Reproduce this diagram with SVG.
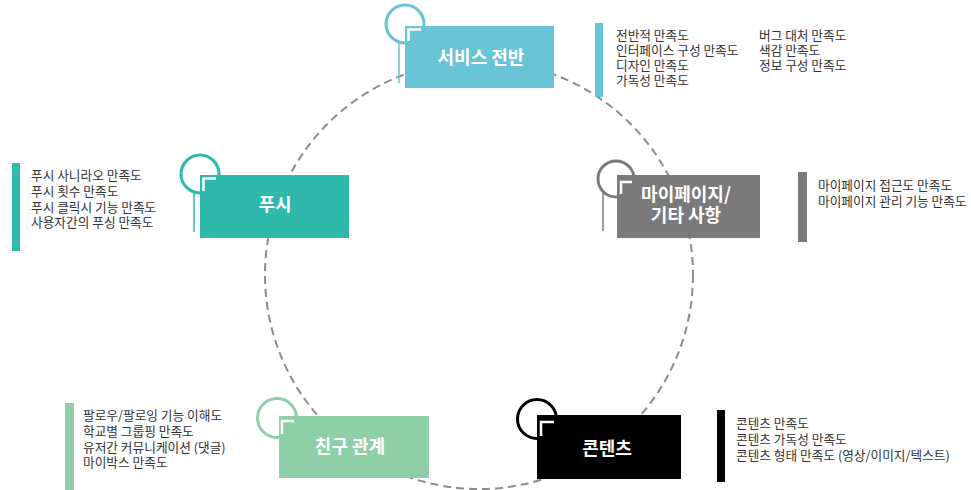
<svg xmlns="http://www.w3.org/2000/svg" width="971" height="490" viewBox="0 0 971 490">
  <style>
    .lbl { font-family: "Noto Sans CJK KR", "Noto Sans", sans-serif; font-size: 18px; font-weight: bold; fill: #ffffff; text-anchor: middle; }
    .item { font-family: "Noto Sans CJK KR", "Noto Sans", sans-serif; font-size: 12.7px; fill: #333333; }
    .ring { fill: none; stroke-width: 3; }
    .notch { fill: none; stroke: #ffffff; stroke-width: 2.5; }
    .thin { fill: none; stroke-width: 1.5; }
    .f-svc { fill: #69c4d6; } .s-svc { stroke: #69c4d6; }
    .f-push { fill: #2fb9ad; } .s-push { stroke: #2fb9ad; }
    .f-my { fill: #7a7a7a; } .s-my { stroke: #7a7a7a; }
    .f-fr { fill: #8fcfa8; } .s-fr { stroke: #8fcfa8; }
    .f-ct { fill: #000000; } .s-ct { stroke: #000000; }
  </style>
  <rect width="971" height="490" fill="#ffffff"/>

  <g id="connectors">
    <circle cx="479" cy="275" r="214" fill="none" stroke="#8c8c8c" stroke-width="2" stroke-dasharray="8 5"/>
  </g>

  <g id="details">
    <rect x="595" y="23" width="8" height="74" class="f-svc"/>
    <text class="item" x="616" y="39.5">전반적 만족도</text>
    <text class="item" x="616" y="54.5">인터페이스 구성 만족도</text>
    <text class="item" x="616" y="69.5">디자인 만족도</text>
    <text class="item" x="616" y="84.5">가독성 만족도</text>
    <text class="item" x="759" y="39.5">버그 대처 만족도</text>
    <text class="item" x="759" y="54.5">색감 만족도</text>
    <text class="item" x="759" y="69.5">정보 구성 만족도</text>

    <rect x="12" y="163" width="8" height="88" class="f-push"/>
    <text class="item" x="31" y="180">푸시 사니라오 만족도</text>
    <text class="item" x="31" y="196">푸시 횟수 만족도</text>
    <text class="item" x="31" y="212">푸시 클릭시 기능 만족도</text>
    <text class="item" x="31" y="227">사용자간의 푸싱 만족도</text>

    <rect x="798" y="172" width="9" height="70" class="f-my"/>
    <text class="item" x="818" y="189.5">마이페이지 접근도 만족도</text>
    <text class="item" x="818" y="206">마이페이지 관리 기능 만족도</text>

    <rect x="65" y="403" width="9" height="87" class="f-fr"/>
    <text class="item" x="83" y="419.5">팔로우/팔로잉 기능 이해도</text>
    <text class="item" x="83" y="436">학교별 그룹핑 만족도</text>
    <text class="item" x="83" y="451.5">유저간 커뮤니케이션 (댓글)</text>
    <text class="item" x="83" y="467">마이박스 만족도</text>

    <rect x="717" y="410" width="8" height="72" class="f-ct"/>
    <text class="item" x="736" y="427.5">콘텐츠 만족도</text>
    <text class="item" x="736" y="443.5">콘텐츠 가독성 만족도</text>
    <text class="item" x="736" y="459.5">콘텐츠 형태 만족도 (영상/이미지/텍스트)</text>
  </g>

  <g id="node-service">
    <rect x="405" y="26" width="149" height="62" class="f-svc"/>
    <circle cx="405" cy="24" r="19" class="ring s-svc"/>
    <path d="M408.5 41 V29.5 H421" class="notch"/>
    <line x1="399" y1="42" x2="399" y2="83" class="thin s-svc"/>
    <text class="lbl" x="481" y="64">서비스 전반</text>
  </g>

  <g id="node-push">
    <rect x="200" y="175" width="149" height="63" class="f-push"/>
    <circle cx="200" cy="174" r="19" class="ring s-push"/>
    <path d="M203.5 191 V178.5 H216" class="notch"/>
    <line x1="194" y1="192" x2="194" y2="232" class="thin s-push"/>
    <text class="lbl" x="275" y="211">푸시</text>
  </g>

  <g id="node-mypage">
    <rect x="617" y="175" width="143" height="63" class="f-my"/>
    <circle cx="616" cy="179" r="18" class="ring s-my"/>
    <path d="M621 194 V182 H632" class="notch"/>
    <line x1="603" y1="193" x2="603" y2="231" class="thin s-my"/>
    <text class="lbl" x="686" y="201">마이페이지/</text>
    <text class="lbl" x="686" y="222">기타 사항</text>
  </g>

  <g id="node-friends">
    <rect x="279" y="416" width="150" height="62" class="f-fr"/>
    <circle cx="277" cy="418" r="19.5" class="ring s-fr"/>
    <path d="M282 434 V421 H294" class="notch"/>
    <text class="lbl" x="350" y="453">친구 관계</text>
  </g>

  <g id="node-contents">
    <rect x="537" y="415" width="144" height="64" class="f-ct"/>
    <circle cx="537" cy="419" r="19.5" class="ring s-ct"/>
    <path d="M541 436 V422 H554" class="notch"/>
    <text class="lbl" x="607" y="455">콘텐츠</text>
  </g>
</svg>
